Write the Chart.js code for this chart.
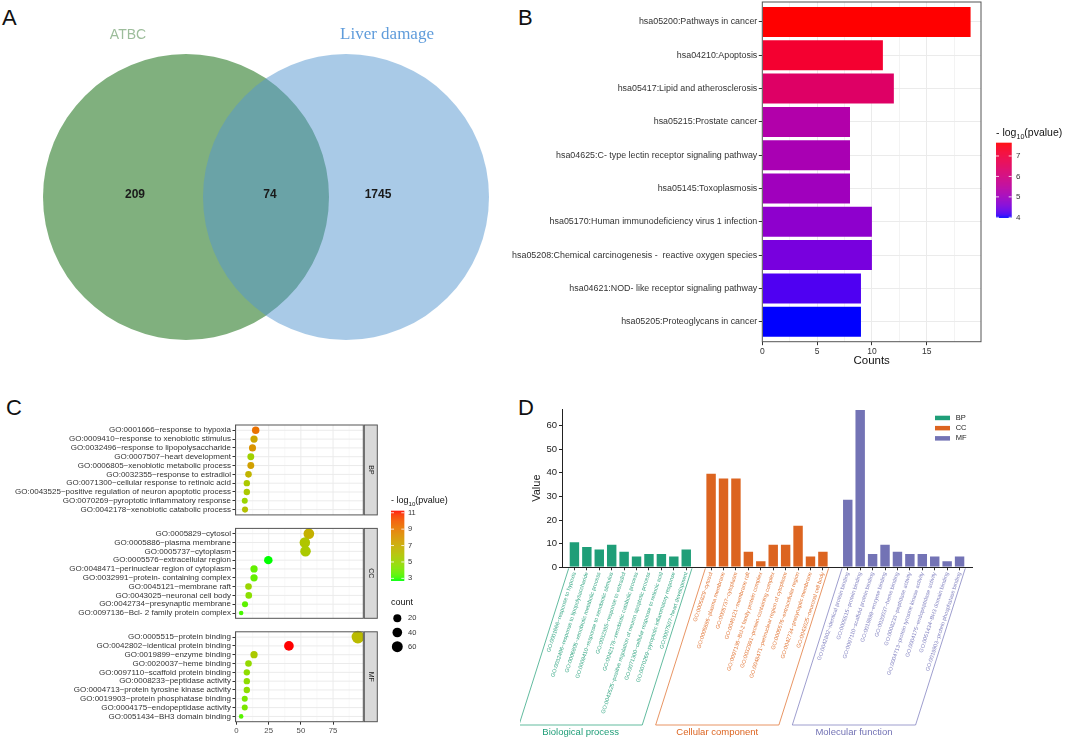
<!DOCTYPE html>
<html>
<head>
<meta charset="utf-8">
<title>ATBC and liver damage: overlap and enrichment</title>
<script src="https://cdn.jsdelivr.net/npm/chart.js"></script>
<style>
  body { margin: 0; width: 1065px; height: 739px; position: relative; overflow: hidden; background: #fff; }
  canvas { position: absolute; }
  .tag { position: absolute; font: 22px/22px 'Liberation Sans', Arial, sans-serif; color: #111; }
</style>
</head>
<body>
<div class="tag" style="left:2px;top:7px">A</div>
<div class="tag" style="left:518px;top:7px">B</div>
<div class="tag" style="left:6px;top:397px">C</div>
<div class="tag" style="left:518px;top:397px">D</div>
<canvas id="venn" width="500" height="360" style="left:0;top:0"></canvas>
<canvas id="kegg" width="565" height="380" style="left:500px;top:0"></canvas>
<canvas id="goDot" width="470" height="344" style="left:0;top:395px"></canvas>
<canvas id="goBar" width="545" height="344" style="left:520px;top:395px"></canvas>
<script>
// A: Venn
const vennSets = ['ATBC', 'Liver damage']
const vennOnly = [209, 1745]
const vennShared = 74

// B: KEGG
const keggTerms = [
  'hsa05200:Pathways in cancer',
  'hsa04210:Apoptosis',
  'hsa05417:Lipid and atherosclerosis',
  'hsa05215:Prostate cancer',
  'hsa04625:C- type lectin receptor signaling pathway',
  'hsa05145:Toxoplasmosis',
  'hsa05170:Human immunodeficiency virus 1 infection',
  'hsa05208:Chemical carcinogenesis -  reactive oxygen species',
  'hsa04621:NOD- like receptor signaling pathway',
  'hsa05205:Proteoglycans in cancer'
]
const keggCounts = [19, 11, 12, 8, 8, 8, 10, 10, 9, 9]
const keggLogP = [7.65, 7.2, 6.4, 5.3, 5.15, 5.0, 4.75, 4.5, 4.2, 4.0]
const keggCountTicks = [0, 5, 10, 15]
const keggLogPTicks = [4, 5, 6, 7]

// C: GO dot plot
const goFacets = ['BP', 'CC', 'MF']
const bpTerms = [
  'GO:0001666~response to hypoxia',
  'GO:0009410~response to xenobiotic stimulus',
  'GO:0032496~response to lipopolysaccharide',
  'GO:0007507~heart development',
  'GO:0006805~xenobiotic metabolic process',
  'GO:0032355~response to estradiol',
  'GO:0071300~cellular response to retinoic acid',
  'GO:0043525~positive regulation of neuron apoptotic process',
  'GO:0070269~pyroptotic inflammatory response',
  'GO:0042178~xenobiotic catabolic process'
]
const bpCounts = [14.9, 13.6, 12.4, 11.1, 11.1, 9.3, 8, 8, 6.4, 6.6]
const bpLogP = [9.3, 7.2, 8.0, 5.2, 7.5, 6.6, 5.6, 5.6, 5.0, 6.0]
const ccTerms = [
  'GO:0005829~cytosol',
  'GO:0005886~plasma membrane',
  'GO:0005737~cytoplasm',
  'GO:0005576~extracellular region',
  'GO:0048471~perinuclear region of cytoplasm',
  'GO:0032991~protein- containing complex',
  'GO:0045121~membrane raft',
  'GO:0043025~neuronal cell body',
  'GO:0042734~presynaptic membrane',
  'GO:0097136~Bcl- 2 family protein complex'
]
const ccCounts = [56.2, 53.1, 53.6, 24.7, 13.6, 13.6, 9.3, 9.5, 6.6, 3.6]
const ccLogP = [6.8, 5.8, 5.6, 2.8, 3.6, 3.6, 5.0, 4.5, 3.5, 3.2]
const mfTerms = [
  'GO:0005515~protein binding',
  'GO:0042802~identical protein binding',
  'GO:0019899~enzyme binding',
  'GO:0020037~heme binding',
  'GO:0097110~scaffold protein binding',
  'GO:0008233~peptidase activity',
  'GO:0004713~protein tyrosine kinase activity',
  'GO:0019903~protein phosphatase binding',
  'GO:0004175~endopeptidase activity',
  'GO:0051434~BH3 domain binding'
]
const mfCounts = [94.3, 40.7, 13.6, 9.3, 8, 8, 8, 6.4, 6.4, 3.6]
const mfLogP = [6.3, 11.25, 5.6, 4.8, 4.6, 4.6, 4.6, 4.1, 4.1, 3.4]
const dotCountTicks = [0, 25, 50, 75]
const dotLogPTicks = [3, 5, 7, 9, 11]
const dotSizeTicks = [20, 40, 60]

// D: GO bar chart
const goGroupNames = ['Biological process', 'Cellular component', 'Molecular function']
const bpBarTerms = [
  'GO:0001666~response to hypoxia',
  'GO:0032496~response to lipopolysaccharide',
  'GO:0006805~xenobiotic metabolic process',
  'GO:0009410~response to xenobiotic stimulus',
  'GO:0032355~response to estradiol',
  'GO:0042178~xenobiotic catabolic process',
  'GO:0043525~positive regulation of neuron apoptotic process',
  'GO:0071300~cellular response to retinoic acid',
  'GO:0070269~pyroptotic inflammatory response',
  'GO:0007507~heart development'
]
const bpBarValues = [11, 9, 8, 10, 7, 5, 6, 6, 5, 8]
const ccBarTerms = [
  'GO:0005829~cytosol',
  'GO:0005886~plasma membrane',
  'GO:0005737~cytoplasm',
  'GO:0045121~membrane raft',
  'GO:0097136~Bcl-2 family protein complex',
  'GO:0032991~protein-containing complex',
  'GO:0048471~perinuclear region of cytoplasm',
  'GO:0005576~extracellular region',
  'GO:0042734~presynaptic membrane',
  'GO:0043025~neuronal cell body'
]
const ccBarValues = [40, 38, 38, 7, 3, 10, 10, 18, 5, 7]
const mfBarTerms = [
  'GO:0042802~identical protein binding',
  'GO:0005515~protein binding',
  'GO:0097110~scaffold protein binding',
  'GO:0019899~enzyme binding',
  'GO:0020037~heme binding',
  'GO:0008233~peptidase activity',
  'GO:0004713~protein tyrosine kinase activity',
  'GO:0004175~endopeptidase activity',
  'GO:0051434~BH3 domain binding',
  'GO:0019903~protein phosphatase binding'
]
const mfBarValues = [29, 67, 6, 10, 7, 6, 6, 5, 3, 5]
const valueTicks = [0, 10, 20, 30, 40, 50, 60]

const FONT = "'Liberation Sans', Arial, sans-serif"
Chart.defaults.font.family = FONT
Chart.defaults.color = '#333'
const NONE = 'rgba(0,0,0,0)'

// ggplot style gradients are interpolated in CIE Lab
function hexToRgb(hex) {
  const n = parseInt(hex.slice(1), 16)
  return [n >> 16 & 255, n >> 8 & 255, n & 255]
}
function toLab(rgb) {
  const lin = rgb.map(c => { c /= 255; return c <= 0.04045 ? c / 12.92 : Math.pow((c + 0.055) / 1.055, 2.4) })
  const x = (0.4124 * lin[0] + 0.3576 * lin[1] + 0.1805 * lin[2]) / 0.95047
  const y = 0.2126 * lin[0] + 0.7152 * lin[1] + 0.0722 * lin[2]
  const z = (0.0193 * lin[0] + 0.1192 * lin[1] + 0.9505 * lin[2]) / 1.08883
  const f = t => t > 0.008856 ? Math.cbrt(t) : 7.787 * t + 16 / 116
  return [116 * f(y) - 16, 500 * (f(x) - f(y)), 200 * (f(y) - f(z))]
}
function fromLab([l, a, b]) {
  const fy = (l + 16) / 116, fx = fy + a / 500, fz = fy - b / 200
  const inv = t => t * t * t > 0.008856 ? t * t * t : (t - 16 / 116) / 7.787
  const x = inv(fx) * 0.95047, y = inv(fy), z = inv(fz) * 1.08883
  const lin = [3.2406 * x - 1.5372 * y - 0.4986 * z, -0.9689 * x + 1.8758 * y + 0.0415 * z, 0.0557 * x - 0.2040 * y + 1.0570 * z]
  return 'rgb(' + lin.map(c => {
    c = c <= 0.0031308 ? 12.92 * c : 1.055 * Math.pow(Math.max(c, 0), 1 / 2.4) - 0.055
    return Math.round(Math.min(1, Math.max(0, c)) * 255)
  }).join(',') + ')'
}
function ramp(low, high, min, max) {
  const a = toLab(hexToRgb(low)), b = toLab(hexToRgb(high))
  return v => {
    const t = Math.min(1, Math.max(0, (v - min) / (max - min)))
    return fromLab(a.map((c, i) => c + (b[i] - c) * t))
  }
}

function drawLogTitle(ctx, x, y, size) {
  ctx.save()
  ctx.fillStyle = '#111'
  ctx.textAlign = 'left'
  ctx.textBaseline = 'alphabetic'
  ctx.font = size + 'px ' + FONT
  ctx.fillText('- log', x, y)
  let w = ctx.measureText('- log').width
  ctx.font = (size * 0.68) + 'px ' + FONT
  ctx.fillText('10', x + w, y + size * 0.3)
  w += ctx.measureText('10').width
  ctx.font = size + 'px ' + FONT
  ctx.fillText('(pvalue)', x + w, y)
  ctx.restore()
}

function drawColorbar(ctx, box, lo, hi, colorOf, ticks, labelX, fontSize) {
  const toY = v => box.y + (hi - v) / (hi - lo) * box.h
  for (let i = 0; i < box.h; i++) {
    ctx.fillStyle = colorOf(hi - (i + 0.5) / box.h * (hi - lo))
    ctx.fillRect(box.x, box.y + i, box.w, 1.2)
  }
  ctx.strokeStyle = '#fff'
  ctx.lineWidth = 0.8
  ctx.fillStyle = '#333'
  ctx.font = fontSize + 'px ' + FONT
  ctx.textAlign = 'left'
  ctx.textBaseline = 'middle'
  ticks.forEach(v => {
    const y = toY(v)
    ctx.beginPath()
    ctx.moveTo(box.x, y); ctx.lineTo(box.x + 3, y)
    ctx.moveTo(box.x + box.w - 3, y); ctx.lineTo(box.x + box.w, y)
    ctx.stroke()
    ctx.fillText(String(v), labelX, y)
  })
}

// keep the plot area where it is set, whatever the outer tick labels need
const noEdgePadding = s => { s.paddingTop = 0; s.paddingBottom = 0 }

const base = {
  responsive: false,
  animation: false,
  events: [],
  plugins: { legend: { display: false }, tooltip: { enabled: false } }
}

// ---------- A ----------
const VENN = { r: 143, cx: [186, 346], cy: 197, titleX: [128, 387], titleY: 35, countX: [135, 270, 378], countY: 195 }

const vennText = {
  id: 'vennText',
  afterDatasetsDraw(chart) {
    const { ctx, scales: { x, y } } = chart
    ctx.save()
    ctx.textAlign = 'center'
    ctx.textBaseline = 'middle'
    ctx.font = '14px ' + FONT
    ctx.fillStyle = '#9dbd9b'
    ctx.fillText(vennSets[0], x.getPixelForValue(VENN.titleX[0]), y.getPixelForValue(VENN.titleY))
    ctx.font = "17px 'Liberation Serif', 'Times New Roman', serif"
    ctx.fillStyle = '#5f9cdb'
    ctx.fillText(vennSets[1], x.getPixelForValue(VENN.titleX[1]), y.getPixelForValue(VENN.titleY))
    ctx.font = 'bold 12px ' + FONT
    ctx.fillStyle = '#1a1a1a'
    const counts = [vennOnly[0], vennShared, vennOnly[1]]
    counts.forEach((c, i) => ctx.fillText(String(c), x.getPixelForValue(VENN.countX[i]), y.getPixelForValue(VENN.countY)))
    ctx.restore()
  }
}

const vennRadius = ctx => ctx.chart.scales.x.getPixelForValue(VENN.r) - ctx.chart.scales.x.getPixelForValue(0)

new Chart(document.getElementById('venn'), {
  type: 'scatter',
  data: {
    datasets: [
      { data: [{ x: VENN.cx[0], y: VENN.cy }], backgroundColor: '#80b07e', borderWidth: 0, pointRadius: vennRadius, clip: false, order: 2 },
      { data: [{ x: VENN.cx[1], y: VENN.cy }], backgroundColor: 'rgba(84,150,207,0.5)', borderWidth: 0, pointRadius: vennRadius, clip: false, order: 1 }
    ]
  },
  options: {
    ...base,
    layout: { padding: 0 },
    scales: {
      x: { display: false, min: 0, max: 500 },
      y: { display: false, min: 0, max: 360, reverse: true }
    }
  },
  plugins: [vennText]
})

// ---------- B ----------
const keggColor = ramp('#0000FF', '#FF0000', 4, 7.65)
const keggGrid = []
for (let v = 0; v < 20; v += 2.5) keggGrid.push(v)

const keggDecor = {
  id: 'keggDecor',
  afterDatasetsDraw(chart) {
    const { ctx, chartArea: a } = chart
    ctx.save()
    ctx.strokeStyle = '#555'
    ctx.lineWidth = 1
    ctx.strokeRect(a.left, a.top, a.right - a.left, a.bottom - a.top)
    ctx.restore()
  },
  afterDraw(chart) {
    const ctx = chart.ctx
    ctx.save()
    drawLogTitle(ctx, 496, 135.5, 10.5)
    drawColorbar(ctx, { x: 496, y: 142.7, w: 15.7, h: 74.6 }, 4, 7.65, keggColor, keggLogPTicks, 516, 8)
    ctx.restore()
  }
}

new Chart(document.getElementById('kegg'), {
  type: 'bar',
  data: {
    datasets: [{
      data: keggCounts.map((c, i) => ({ x: c, y: i + 1 })),
      backgroundColor: keggLogP.map(keggColor),
      borderWidth: 0,
      categoryPercentage: 1,
      barPercentage: 0.9
    }]
  },
  options: {
    ...base,
    indexAxis: 'y',
    layout: { padding: { top: 2, right: 84, bottom: 0, left: 0 } },
    scales: {
      x: {
        type: 'linear', min: 0, max: 19.95,
        afterBuildTicks: s => { s.ticks = keggGrid.map(v => ({ value: v })) },
        afterFit: s => { s.height = 38.3 },
        ticks: { callback: v => keggCountTicks.includes(v) ? v : '', font: { size: 8.5 }, color: '#333', padding: 1.5, autoSkip: false, maxRotation: 0 },
        grid: {
          color: '#ebebeb',
          lineWidth: c => keggCountTicks.includes(c.tick.value) ? 1 : 0.6,
          tickColor: c => keggCountTicks.includes(c.tick.value) ? '#333' : NONE,
          tickLength: 3.5
        },
        border: { display: false },
        title: { display: true, text: 'Counts', font: { size: 11.5 }, color: '#111', padding: { top: 0, bottom: 12 } }
      },
      y: {
        type: 'linear', reverse: true, offset: false, min: 0.4, max: keggTerms.length + 0.6,
        afterBuildTicks: s => { s.ticks = keggTerms.map((t, i) => ({ value: i + 1 })) },
        afterFit: s => { s.width = 262.3; noEdgePadding(s) },
        ticks: { callback: v => keggTerms[Math.round(v) - 1], font: { size: 8.9 }, color: '#333', padding: 1.5, autoSkip: false },
        grid: { offset: false, color: '#ebebeb', tickColor: '#333', tickLength: 3.5 },
        border: { display: false }
      }
    }
  },
  plugins: [keggDecor]
})

// ---------- C ----------
const FACET_PAD = 0.6
const FACET_GAP = 0.53
const facetRows = [bpTerms, ccTerms, mfTerms]
const facetStep = n => n + 2 * FACET_PAD + FACET_GAP
const dotTerms = [...bpTerms, ...ccTerms, ...mfTerms]
const dotCounts = [...bpCounts, ...ccCounts, ...mfCounts]
const dotLogP = [...bpLogP, ...ccLogP, ...mfLogP]
const dotRows = []
facetRows.forEach((terms, f) => terms.forEach((t, i) => dotRows.push(1 + f * facetStep(terms.length) + i)))
const dotYMax = 1 - FACET_PAD + (facetRows.length - 1) * facetStep(10) + 10 - 1 + 2 * FACET_PAD

const dotColor = ramp('#00FF00', '#FF0000', 2.8, 11.25)
const cMin = Math.min(...dotCounts), cMax = Math.max(...dotCounts)
const dotRadius = c => 0.8 * (1 + 5 * Math.sqrt(Math.max(0, c - cMin) / (cMax - cMin))) + 1.5

const dotFacets = {
  id: 'dotFacets',
  beforeDatasetsDraw(chart) {
    const { ctx, chartArea: a, scales: { x, y } } = chart
    ctx.save()
    facetRows.forEach((terms, f) => {
      const top = y.getPixelForValue(1 - FACET_PAD + f * facetStep(terms.length))
      const bottom = y.getPixelForValue(terms.length + FACET_PAD + f * facetStep(terms.length))
      for (let v = 0; v < x.max; v += 12.5) {
        const px = x.getPixelForValue(v)
        ctx.strokeStyle = v % 25 === 0 ? '#ebebeb' : '#f3f3f3'
        ctx.lineWidth = v % 25 === 0 ? 1 : 0.6
        ctx.beginPath(); ctx.moveTo(px, top); ctx.lineTo(px, bottom); ctx.stroke()
      }
      ctx.strokeStyle = '#ebebeb'
      ctx.lineWidth = 1
      terms.forEach((t, i) => {
        const py = y.getPixelForValue(1 + f * facetStep(terms.length) + i)
        ctx.beginPath(); ctx.moveTo(a.left, py); ctx.lineTo(a.right, py); ctx.stroke()
      })
    })
    ctx.restore()
  },
  afterDatasetsDraw(chart) {
    const { ctx, chartArea: a, scales: { y } } = chart
    ctx.save()
    facetRows.forEach((terms, f) => {
      const top = y.getPixelForValue(1 - FACET_PAD + f * facetStep(terms.length))
      const bottom = y.getPixelForValue(terms.length + FACET_PAD + f * facetStep(terms.length))
      ctx.strokeStyle = '#555'
      ctx.lineWidth = 1
      ctx.strokeRect(a.left, top, a.right - a.left, bottom - top)
      ctx.fillStyle = '#d9d9d9'
      ctx.fillRect(a.right + 1, top, 13, bottom - top)
      ctx.strokeRect(a.right + 1, top, 13, bottom - top)
      ctx.translate(a.right + 7.5, (top + bottom) / 2)
      ctx.rotate(Math.PI / 2)
      ctx.fillStyle = '#1a1a1a'
      ctx.font = '7px ' + FONT
      ctx.textAlign = 'center'
      ctx.textBaseline = 'middle'
      ctx.fillText(goFacets[f], 0, 0)
      ctx.setTransform(1, 0, 0, 1, 0, 0)
    })
    ctx.restore()
  },
  afterDraw(chart) {
    const ctx = chart.ctx
    ctx.save()
    drawLogTitle(ctx, 391, 108, 9)
    drawColorbar(ctx, { x: 391, y: 115.7, w: 13.3, h: 69.3 }, 2.8, 11.25, dotColor, dotLogPTicks.slice().reverse(), 408, 7.5)
    ctx.fillStyle = '#111'
    ctx.font = '9px ' + FONT
    ctx.textAlign = 'left'
    ctx.textBaseline = 'middle'
    ctx.fillText('count', 391, 207.7)
    ctx.font = '7.5px ' + FONT
    dotSizeTicks.forEach((c, i) => {
      const cy = 223.3 + i * 14.2
      ctx.fillStyle = '#000'
      ctx.beginPath(); ctx.arc(397.3, cy, dotRadius(c), 0, Math.PI * 2); ctx.fill()
      ctx.fillStyle = '#333'
      ctx.fillText(String(c), 408, cy)
    })
    ctx.restore()
  }
}

new Chart(document.getElementById('goDot'), {
  type: 'scatter',
  data: {
    datasets: [{
      data: dotCounts.map((c, i) => ({ x: c, y: dotRows[i] })),
      pointBackgroundColor: dotLogP.map(dotColor),
      pointBorderWidth: 0,
      pointRadius: dotCounts.map(dotRadius)
    }]
  },
  options: {
    ...base,
    layout: { padding: { top: 30, right: 106.7, bottom: 0, left: 0 } },
    scales: {
      x: {
        type: 'linear', min: -0.8, max: 98.5,
        afterBuildTicks: s => { s.ticks = dotCountTicks.map(v => ({ value: v })) },
        afterFit: s => { s.height = 17.3 },
        ticks: { font: { size: 7.8 }, color: '#4d4d4d', padding: 1, maxRotation: 0 },
        grid: { color: NONE, tickColor: '#333', tickLength: 3 },
        border: { display: false }
      },
      y: {
        type: 'linear', reverse: true, min: 1 - FACET_PAD, max: dotYMax,
        afterBuildTicks: s => { s.ticks = dotRows.map(v => ({ value: v })) },
        afterFit: s => { s.width = 235.5; noEdgePadding(s) },
        ticks: { callback: v => dotTerms[dotRows.indexOf(v)], font: { size: 8 }, color: '#333', padding: 1.5, autoSkip: false },
        grid: { color: NONE, tickColor: '#333', tickLength: 3 },
        border: { display: false }
      }
    }
  },
  plugins: [dotFacets]
})

// ---------- D ----------
const barColors = ['#1f9e78', '#dc6420', '#7373b5']
const barTextColors = ['#3aa987', '#e27a3c', '#8585c2']
const barGroups = [bpBarValues, ccBarValues, mfBarValues]
const barLabels = ['', ...bpBarTerms, '', ...ccBarTerms, '', ...mfBarTerms, '']
const barGroupOf = barLabels.map((l, i) => l === '' ? -1 : Math.floor((i - 1) / 11))
const groupData = k => barLabels.map((l, i) => barGroupOf[i] === k ? barGroups[k][(i - 1) % 11] : null)

const goBarDecor = {
  id: 'goBarDecor',
  afterDraw(chart) {
    const { ctx, chartArea: a, scales: { x } } = chart
    const pitch = x.getPixelForValue(1) - x.getPixelForValue(0)
    const half = pitch * 0.46
    const drop = 330 - a.bottom
    const shift = drop / Math.tan(72.5 * Math.PI / 180)
    ctx.save()
    goGroupNames.forEach((name, k) => {
      const idx = barGroupOf.map((g, i) => g === k ? i : -1).filter(i => i >= 0)
      const xl = x.getPixelForValue(idx[0]) - half
      const xr = x.getPixelForValue(idx[idx.length - 1]) + half
      ctx.strokeStyle = barTextColors[k]
      ctx.lineWidth = 0.8
      ctx.beginPath()
      ctx.moveTo(xl, a.bottom + 1)
      ctx.lineTo(xl - shift, a.bottom + drop)
      ctx.lineTo(xr - shift, a.bottom + drop)
      ctx.lineTo(xr, a.bottom + 1)
      ctx.stroke()
      ctx.fillStyle = barColors[k]
      ctx.font = '9.5px ' + FONT
      ctx.textAlign = 'center'
      ctx.textBaseline = 'middle'
      ctx.fillText(name, (xl + xr) / 2 - shift, a.bottom + drop + 7.5)
    })
    ctx.font = '7.5px ' + FONT
    ctx.textAlign = 'left'
    ctx.textBaseline = 'middle'
    goFacets.forEach((name, k) => {
      const y = 20.7 + k * 10.2
      ctx.fillStyle = barColors[k]
      ctx.fillRect(415, y, 15, 4.5)
      ctx.fillStyle = '#222'
      ctx.fillText(name, 435.7, y + 2.3)
    })
    ctx.restore()
  }
}

new Chart(document.getElementById('goBar'), {
  type: 'bar',
  data: {
    labels: barLabels,
    datasets: goFacets.map((name, k) => ({
      label: name,
      data: groupData(k),
      backgroundColor: barColors[k],
      borderColor: 'rgba(255,255,255,0.45)',
      borderWidth: 1,
      grouped: false,
      categoryPercentage: 1,
      barPercentage: 0.92
    }))
  },
  options: {
    ...base,
    layout: { padding: { top: 14, right: 93, bottom: 0, left: 0 } },
    scales: {
      x: {
        type: 'category', offset: false,
        afterFit: s => { s.height = 171.7 },
        ticks: {
          autoSkip: false, minRotation: 72, maxRotation: 72, padding: 1,
          font: { size: 5.5 },
          color: c => barGroupOf[c.index] < 0 ? NONE : barTextColors[barGroupOf[c.index]]
        },
        grid: {
          offset: false, drawOnChartArea: false, tickLength: 3,
          tickColor: c => barGroupOf[c.index] < 0 ? NONE : '#333'
        },
        border: { color: '#222', width: 1 }
      },
      y: {
        min: 0, max: 67,
        afterBuildTicks: s => { s.ticks = valueTicks.map(v => ({ value: v })) },
        afterFit: s => { s.width = 42 },
        ticks: { font: { size: 9.5 }, color: '#222', padding: 2 },
        grid: { drawOnChartArea: false, tickLength: 3, tickColor: '#222' },
        border: { color: '#222', width: 1 },
        title: { display: true, text: 'Value', font: { size: 11 }, color: '#222', padding: { top: 10.4, bottom: 0 } }
      }
    }
  },
  plugins: [goBarDecor]
})
</script>
</body>
</html>
